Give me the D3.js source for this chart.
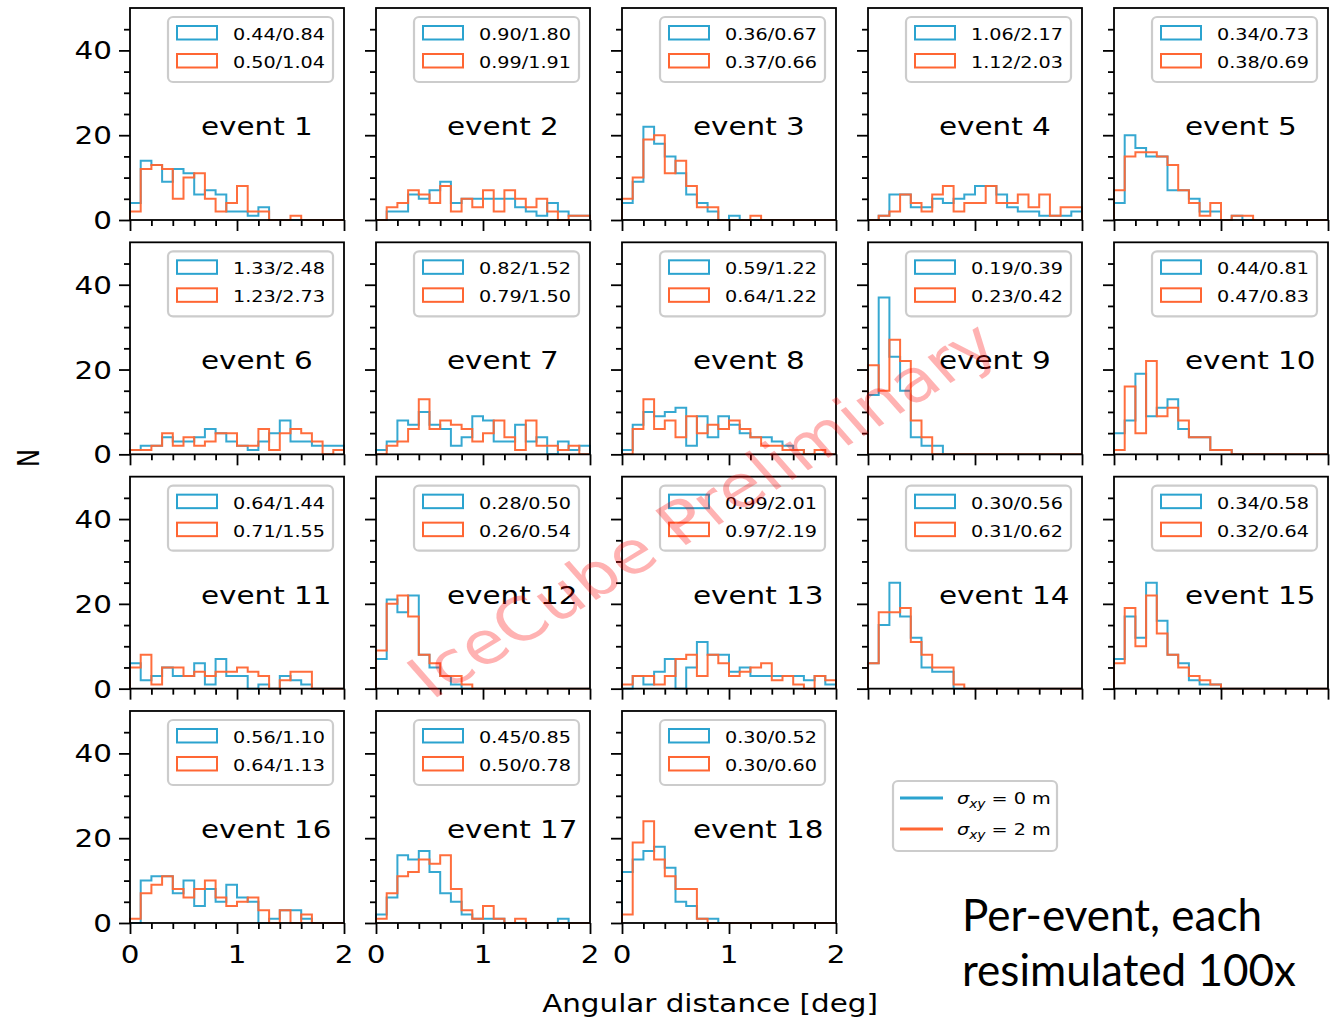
<!DOCTYPE html>
<html>
<head>
<meta charset="utf-8">
<script src="https://cdn.jsdelivr.net/npm/d3@7"></script>
<style>
  body { margin: 0; background: #fff; }
  svg { display: block; font-family: "DejaVu Sans", sans-serif; }
</style>
</head>
<body>
<svg id="chart" width="1334" height="1018"></svg>
<script>
// ---- data ---------------------------------------------------------------
const eventNames = d3.range(1, 19).map(i => "event " + i);

// histogram bin edges: 0 .. 2 deg in steps of 0.1
const binEdges = d3.range(0, 21).map(i => +(i * 0.1).toFixed(1));

// counts per 0.1 deg bin, sigma_xy = 0 m
const countsSigma0 = [
  [4,14,13,9,12,11,6,7,6,2,2,1,3,0,0,0,0,0,0,0],
  [0,2,2,6,5,7,9,4,5,5,5,5,5,3,2,1,4,2,1,1],
  [4,9,22,18,15,11,6,4,2,0,1,0,0,0,0,0,0,0,0,0],
  [0,1,6,6,3,3,5,4,5,6,8,8,6,3,2,2,1,1,1,2],
  [4,20,17,15,15,7,7,5,2,2,0,1,0,0,0,0,0,0,0,0],
  [1,2,2,4,3,3,4,6,5,3,2,1,3,5,8,3,3,2,2,2],
  [1,3,8,7,10,7,6,2,4,9,8,3,3,7,3,4,0,3,1,2],
  [1,7,10,9,10,11,2,9,4,9,7,5,4,4,3,2,1,0,0,0],
  [14,37,23,15,4,2,2,0,0,0,0,0,0,0,0,0,0,0,0,0],
  [5,8,19,9,11,13,6,4,4,1,1,0,0,0,0,0,0,0,0,0],
  [6,2,3,5,3,3,6,1,7,3,3,0,1,0,3,2,1,0,0,0],
  [7,21,18,22,8,5,3,1,0,0,0,0,0,0,0,0,0,0,0,0],
  [0,3,1,4,7,0,5,11,8,8,4,5,3,3,3,3,3,2,3,1],
  [6,15,25,17,12,5,4,4,0,0,0,0,0,0,0,0,0,0,0,0],
  [7,17,12,25,16,8,6,2,1,1,0,0,0,0,0,0,0,0,0,0],
  [0,10,11,11,7,10,4,8,5,9,6,5,0,1,3,3,1,0,0,0],
  [2,6,16,15,17,12,7,5,2,1,1,1,0,0,0,0,0,1,0,0],
  [12,15,17,18,13,5,4,1,1,0,0,0,0,0,0,0,0,0,0,0]
];

// counts per 0.1 deg bin, sigma_xy = 2 m
const countsSigma2 = [
  [2,12,13,12,5,10,11,5,2,4,8,2,2,0,0,1,0,0,0,0],
  [0,3,4,7,6,4,8,2,5,3,7,2,7,5,3,5,2,0,1,1],
  [5,10,19,20,11,14,8,3,3,0,0,0,1,0,0,0,0,0,0,0],
  [0,1,2,6,4,2,6,8,2,4,4,8,4,4,6,3,6,1,3,3],
  [7,15,16,16,15,13,7,4,1,4,0,1,1,0,0,0,0,0,0,0],
  [1,1,2,5,2,4,2,3,5,5,2,2,6,1,5,6,5,3,0,1],
  [0,2,3,6,13,6,8,7,6,3,5,8,4,1,8,2,2,1,2,0],
  [0,6,13,6,8,4,9,5,7,6,8,6,4,2,2,1,1,0,1,0],
  [21,15,27,22,8,4,0,0,0,0,0,0,0,0,0,0,0,0,0,0],
  [1,16,5,22,9,11,8,4,4,1,1,0,0,0,0,0,0,0,0,0],
  [5,8,1,5,5,3,4,3,4,4,5,4,3,0,2,4,4,0,0,0],
  [9,20,22,17,8,6,3,3,1,0,0,0,0,0,0,0,0,0,0,0],
  [1,3,3,1,3,7,8,3,8,6,3,4,5,6,2,3,1,0,3,2],
  [6,18,18,19,11,8,5,5,1,0,0,0,0,0,0,0,0,0,0,0],
  [6,19,10,22,13,8,5,3,2,1,0,0,0,0,0,0,0,0,0,0],
  [1,7,9,11,8,6,8,10,6,4,5,6,3,0,3,0,2,0,0,0],
  [1,7,11,12,15,14,16,8,3,1,4,1,0,1,0,0,0,0,0,0],
  [2,19,24,15,11,8,8,1,0,0,0,0,0,0,0,0,0,0,0,0]
];

// legend entries: median / 90% angular distance
const statsSigma0 = ["0.44/0.84","0.90/1.80","0.36/0.67","1.06/2.17","0.34/0.73",
  "1.33/2.48","0.82/1.52","0.59/1.22","0.19/0.39","0.44/0.81",
  "0.64/1.44","0.28/0.50","0.99/2.01","0.30/0.56","0.34/0.58",
  "0.56/1.10","0.45/0.85","0.30/0.52"];
const statsSigma2 = ["0.50/1.04","0.99/1.91","0.37/0.66","1.12/2.03","0.38/0.69",
  "1.23/2.73","0.79/1.50","0.64/1.22","0.23/0.42","0.47/0.83",
  "0.71/1.55","0.26/0.54","0.97/2.19","0.31/0.62","0.32/0.64",
  "0.64/1.13","0.50/0.78","0.30/0.60"];

const xMajorTicks = [0, 1, 2];
const xMinorTicks = [0.2, 0.4, 0.6, 0.8, 1.2, 1.4, 1.6, 1.8];
const yMajorTicks = [0, 20, 40];
const yMinorTicks = [5, 10, 15, 25, 30, 35, 45];

// ---- layout / style -----------------------------------------------------
const BLUE = "#2ba3cf";
const ORANGE = "#ff6633";
const SX = 1.2;            // horizontal text stretch
const FS = 24.5;           // main font size
const nCols = 5;
const panelW = 214, panelH = 212;
const colStep = 246, rowStep = 234.33;
const left0 = 130, top0 = 8;

const svg = d3.select("#chart");

const x = d3.scaleLinear().domain([0, 2]).range([0, panelW]);
const y = d3.scaleLinear().domain([0, 50]).range([panelH, 0]);

function sText(parent, px, py, str, size, anchor) {
  const g = parent.append("g").attr("transform", `translate(${px},${py}) scale(${SX},1)`);
  return g.append("text")
    .attr("font-size", size)
    .attr("text-anchor", anchor || "start")
    .attr("fill", "#000")
    .text(str);
}

function stepPoints(counts) {
  const pts = [[binEdges[0], 0]];
  counts.forEach((c, i) => {
    pts.push([binEdges[i], c]);
    pts.push([binEdges[i + 1], c]);
  });
  pts.push([binEdges[binEdges.length - 1], 0]);
  return pts;
}

const line = d3.line().x(d => x(d[0])).y(d => y(d[1]));

const defs = svg.append("defs");
defs.append("clipPath").attr("id", "panel-clip")
  .append("rect").attr("x", -1).attr("y", 0).attr("width", panelW + 2).attr("height", panelH + 1);

eventNames.forEach((name, k) => {
  const col = k % nCols, row = Math.floor(k / nCols);
  const px = left0 + col * colStep;
  const py = top0 + row * rowStep;
  const g = svg.append("g").attr("transform", `translate(${px},${py})`);

  // histograms
  const hist = g.append("g").attr("clip-path", "url(#panel-clip)");
  [[countsSigma0[k], BLUE], [countsSigma2[k], ORANGE]].forEach(([counts, color]) => {
    hist.append("path")
      .attr("d", line(stepPoints(counts)))
      .attr("fill", "none")
      .attr("stroke", color)
      .attr("stroke-width", 2)
      .attr("stroke-opacity", 0.95);
  });

  // axes ticks
  const axB = g.append("g").attr("transform", `translate(0,${panelH})`);
  axB.call(d3.axisBottom(x).tickValues(xMajorTicks).tickSize(11).tickFormat(""));
  axB.append("g").call(d3.axisBottom(x).tickValues(xMinorTicks).tickSize(6).tickFormat(""));
  const axL = g.append("g");
  axL.call(d3.axisLeft(y).tickValues(yMajorTicks).tickSize(11).tickFormat(""));
  axL.append("g").call(d3.axisLeft(y).tickValues(yMinorTicks).tickSize(6).tickFormat(""));
  g.selectAll(".domain").remove();
  g.selectAll(".tick line").attr("stroke", "#000").attr("stroke-width", 1.8);

  // frame
  g.append("rect").attr("width", panelW).attr("height", panelH)
    .attr("fill", "none").attr("stroke", "#000").attr("stroke-width", 1.8);

  // tick labels on outer panels
  if (col === 0) {
    yMajorTicks.forEach(v => {
      sText(g, -18, y(v) + 9, String(v), FS, "end");
    });
  }
  if (row === 3) {
    xMajorTicks.forEach(v => {
      sText(g, x(v), panelH + 40, String(v), FS, "middle");
    });
  }

  // event label
  sText(g, 71, 127, name, FS, "start");

  // per-panel legend
  const lg = g.append("g");
  lg.append("rect").attr("x", 38).attr("y", 9).attr("width", 165).attr("height", 65)
    .attr("rx", 5).attr("fill", "#fff").attr("fill-opacity", 0.8)
    .attr("stroke", "#cccccc").attr("stroke-width", 2.2);
  [[statsSigma0[k], BLUE, 18], [statsSigma2[k], ORANGE, 46]].forEach(([txt, color, ty]) => {
    lg.append("rect").attr("x", 47).attr("y", ty).attr("width", 40).attr("height", 13.5)
      .attr("fill", "none").attr("stroke", color).attr("stroke-width", 2);
    sText(lg, 103, ty + 14, txt, 16, "start");
  });
});

// axis titles
sText(svg, 710, 1012, "Angular distance [deg]", FS, "middle");
svg.append("g").attr("transform", `translate(39,458) scale(${SX},1) rotate(-90)`)
  .append("text").attr("font-size", FS).attr("text-anchor", "middle").text("N");

// figure legend
const fl = svg.append("g");
fl.append("rect").attr("x", 893).attr("y", 781).attr("width", 164).attr("height", 70)
  .attr("rx", 5).attr("fill", "#fff").attr("stroke", "#cccccc").attr("stroke-width", 2.2);
[[BLUE, "0", 798], [ORANGE, "2", 829]].forEach(([color, val, ly]) => {
  fl.append("line").attr("x1", 900).attr("x2", 943).attr("y1", ly).attr("y2", ly)
    .attr("stroke", color).attr("stroke-width", 3);
  const t = sText(fl, 957, ly + 6, "", 16, "start");
  t.append("tspan").attr("font-style", "italic").text("σ");
  t.append("tspan").attr("font-style", "italic").attr("font-size", 11.5).attr("dy", 4).text("xy");
  t.append("tspan").attr("dy", -4).text(" = " + val + " m");
});

// annotation
const note = svg.append("g").attr("font-family", "Lato, 'Open Sans', sans-serif");
note.append("text").attr("x", 962).attr("y", 931).attr("font-size", 44).text("Per-event, each");
note.append("text").attr("x", 962).attr("y", 986).attr("font-size", 44).text("resimulated 100x");

// watermark
svg.append("g").attr("transform", `translate(717,526) scale(${SX},1) rotate(-36.3)`)
  .append("text").attr("font-size", 59).attr("text-anchor", "middle")
  .attr("fill", "red").attr("fill-opacity", 0.3)
  .text("IceCube Preliminary");
</script>
</body>
</html>
